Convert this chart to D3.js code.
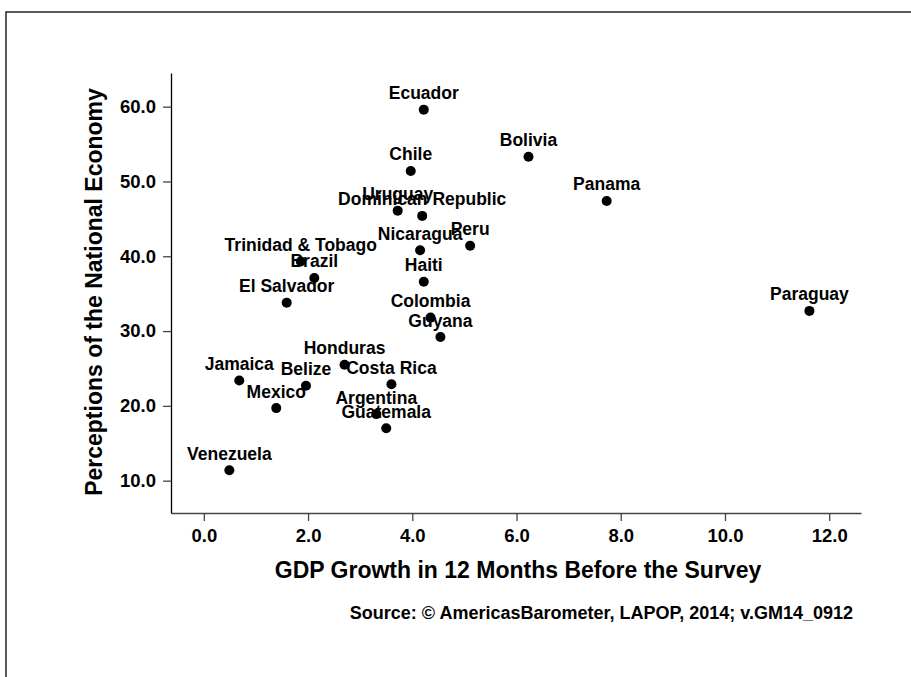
<!DOCTYPE html>
<html>
<head>
<meta charset="utf-8">
<script src="https://cdn.jsdelivr.net/npm/d3@7/dist/d3.min.js"></script>
<style>
  html, body { margin: 0; padding: 0; background: #fff; }
  svg { display: block; }
  text { font-family: "Liberation Sans", Arial, sans-serif; font-weight: bold; fill: #000; }
</style>
</head>
<body>
<svg id="chart" width="911" height="677"></svg>
<script>
// ---- data ----
const countries = ["Ecuador","Chile","Uruguay","Dominican Republic","Nicaragua","Peru","Trinidad & Tobago","Brazil","Haiti","El Salvador","Colombia","Guyana","Honduras","Jamaica","Belize","Costa Rica","Mexico","Argentina","Guatemala","Venezuela","Bolivia","Panama","Paraguay"];
const gdpGrowth = [4.22,3.97,3.72,4.19,4.15,5.11,1.86,2.12,4.22,1.59,4.35,4.54,2.70,0.68,1.96,3.60,1.39,3.31,3.50,0.49,6.23,7.73,11.62];
const perceptions = [59.6,51.4,46.1,45.4,40.8,41.4,39.3,37.1,36.6,33.8,31.8,29.2,25.5,23.4,22.7,22.9,19.7,18.9,17.0,11.4,53.3,47.4,32.7];
const xTicks = [0,2,4,6,8,10,12];
const yTicks = [10,20,30,40,50,60];
const xTitle = "GDP Growth in 12 Months Before the Survey";
const yTitle = "Perceptions of the National Economy";
const sourceText = "Source: \u00A9 AmericasBarometer, LAPOP, 2014; v.GM14_0912";

// ---- chart ----
const svg = d3.select("#chart");

// outer frame (top and left edges visible)
svg.append("path")
  .attr("d", "M6,677 L6,12 L911,12")
  .attr("fill", "none")
  .attr("stroke", "#222")
  .attr("stroke-width", 1.5);

const x = d3.scaleLinear().domain([-0.63, 12.61]).range([171, 861]);
const y = d3.scaleLinear().domain([5.68, 64.5]).range([513, 73]);
const fmt = d3.format(".1f");

const gx = svg.append("g")
  .attr("transform", "translate(0,513)")
  .call(d3.axisBottom(x).tickValues(xTicks).tickFormat(fmt).tickSize(8).tickSizeOuter(0).tickPadding(8));
gx.select(".domain").attr("stroke", "#444").attr("stroke-width", 1.3);
gx.selectAll(".tick line").attr("stroke", "#444").attr("stroke-width", 1.3);
gx.selectAll(".tick text").attr("font-size", 18.5).style("font-family", "'Liberation Sans', Arial, sans-serif").style("font-weight", "bold").attr("fill", "#000");

const gy = svg.append("g")
  .attr("transform", "translate(171,0)")
  .call(d3.axisLeft(y).tickValues(yTicks).tickFormat(fmt).tickSize(8).tickSizeOuter(0).tickPadding(7));
gy.select(".domain").attr("stroke", "#000").attr("stroke-width", 1.3);
gy.selectAll(".tick line").attr("stroke", "#444").attr("stroke-width", 1.3);
gy.selectAll(".tick text").attr("font-size", 18.5).style("font-family", "'Liberation Sans', Arial, sans-serif").style("font-weight", "bold").attr("fill", "#000");

const pts = countries.map((c, i) => ({ name: c, gx: gdpGrowth[i], py: perceptions[i] }));

svg.append("g").selectAll("circle")
  .data(pts).join("circle")
  .attr("cx", d => x(d.gx))
  .attr("cy", d => y(d.py))
  .attr("r", 5)
  .attr("fill", "#000");

svg.append("g").selectAll("text")
  .data(pts).join("text")
  .attr("x", d => x(d.gx))
  .attr("y", d => y(d.py) - 10.5)
  .attr("text-anchor", "middle")
  .attr("font-size", 17.5)
  .text(d => d.name);

svg.append("text")
  .attr("x", 518)
  .attr("y", 578)
  .attr("text-anchor", "middle")
  .attr("font-size", 23)
  .text(xTitle);

svg.append("text")
  .attr("transform", "translate(102,292) rotate(-90)")
  .attr("text-anchor", "middle")
  .attr("font-size", 23)
  .text(yTitle);

svg.append("text")
  .attr("x", 853)
  .attr("y", 619)
  .attr("text-anchor", "end")
  .attr("font-size", 18)
  .text(sourceText);
</script>
</body>
</html>
